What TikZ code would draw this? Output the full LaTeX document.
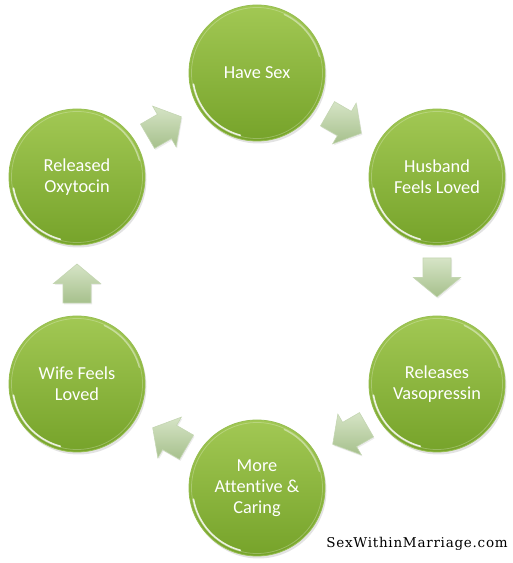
\documentclass[tikz,border=0pt]{standalone}
\usepackage{fontspec}
\setmainfont{Carlito}[Ligatures={NoCommon}]
\newfontfamily\wmfont{DejaVu Serif}[LetterSpace=5.5]
\usetikzlibrary{calc,shadows}
\definecolor{gTop}{RGB}{162,200,84}
\definecolor{gBot}{RGB}{118,163,42}
\definecolor{gEdge}{RGB}{150,190,80}
\definecolor{aTop}{RGB}{214,228,198}
\definecolor{aBot}{RGB}{166,192,140}
\definecolor{aEdge}{RGB}{196,214,178}
\newcommand\bArrow[3]{%
  \path[barrow, shift={($(#1)!0.5!(#2)$)}, rotate=#3]
    (-22.5,-14) -- (-3,-14) -- (-3,-23.5) -- (16.5,0) -- (-3,23.5) -- (-3,14) -- (-22.5,14) -- cycle;}
\newcommand\gloss[1]{%
  \begin{scope}[shift={(#1.center)}]
    \draw[white, opacity=0.25, line width=0.8pt] (0,0) circle (65.5);
    \draw[white, opacity=0.85, line width=1.6pt, line cap=round] (190:64.5) arc[start angle=190, end angle=255, radius=64.5];
    \draw[white, opacity=0.45, line width=1.2pt, line cap=round] (15:64.5) arc[start angle=15, end angle=65, radius=64.5];
  \end{scope}}
\begin{document}
\begin{tikzpicture}[x=1pt,y=1pt,
  bubble/.style={circle, minimum size=136pt, inner sep=0pt, top color=gTop, bottom color=gBot,
    draw=gEdge, line width=0.8pt, text=white, align=center,
    font=\fontsize{18.3}{21}\selectfont,
    drop shadow={opacity=0.22, shadow xshift=1.5pt, shadow yshift=-2.5pt}},
  barrow/.style={top color=aTop, bottom color=aBot, draw=aEdge, line width=0.6pt, line join=miter,
    drop shadow={opacity=0.15, shadow xshift=1pt, shadow yshift=-1.5pt}},
  mark label/.style={font=\wmfont\fontsize{13.5}{15}\selectfont, text=black, inner sep=0pt}]
\useasboundingbox (0,0) rectangle (513,563);
\fill[white] (0,0) rectangle (513,563);
\node[bubble] (sex) at (257,490) {Have Sex};
\node[bubble] (husband) at (437,386) {Husband\\Feels Loved};
\node[bubble] (vaso) at (437,179) {Releases\\Vasopressin};
\node[bubble] (more) at (257,75) {More\\Attentive \&\\Caring};
\node[bubble] (wife) at (77,179) {Wife Feels\\Loved};
\node[bubble] (oxy) at (77,386) {Released\\Oxytocin};
\gloss{sex}\gloss{husband}\gloss{vaso}\gloss{more}\gloss{wife}\gloss{oxy}
\bArrow{oxy}{sex}{30}
\bArrow{sex}{husband}{-30}
\bArrow{husband}{vaso}{-90}
\bArrow{vaso}{more}{210}
\bArrow{more}{wife}{150}
\bArrow{wife}{oxy}{90}
\node[mark label] (mark) at (417,19) {SexWithinMarriage.com};
\end{tikzpicture}
\end{document}
